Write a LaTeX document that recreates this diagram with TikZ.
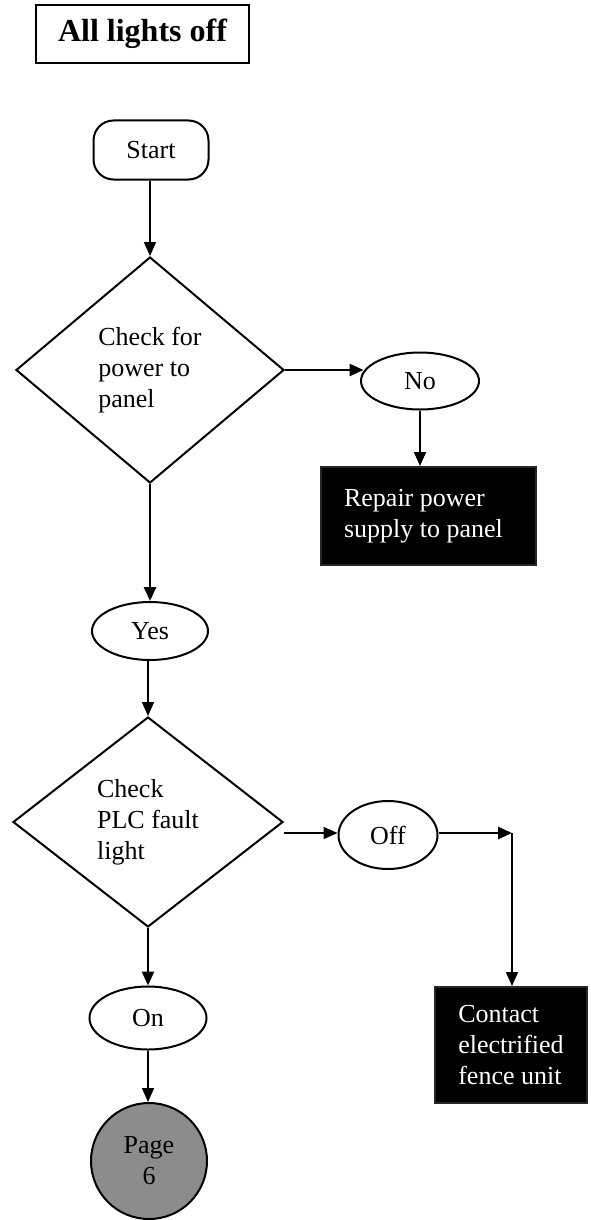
\documentclass[tikz,border=0pt]{standalone}
\usepackage{fontspec}
\setmainfont{Liberation Serif}
\usetikzlibrary{shapes.geometric,arrows.meta}

\tikzset{
  base/.style={draw=black, line width=2pt, inner sep=0pt, align=left,
    font=\fontsize{26}{31}\selectfont},
  titlebox/.style={base, rectangle, minimum width=213pt, minimum height=58pt,
    font=\fontsize{32}{38}\selectfont\bfseries},
  terminal/.style={base, rectangle, rounded corners=20pt,
    minimum width=115pt, minimum height=59pt},
  decision/.style={base, diamond},
  answer/.style={base, ellipse},
  action/.style={base, rectangle, fill=black, draw=black!85, text=white},
  pageref/.style={base, circle, fill=black!45, align=center},
  flow/.style={line width=1.6pt, -{Triangle[length=14pt,width=12pt]}},
  flowbold/.style={flow, line width=2.6pt},
}

\begin{document}
\begin{tikzpicture}[x=1pt, y=-1pt]
  \useasboundingbox (0,0) rectangle (590,1220);

  % heading
  \node[titlebox] (title) at (142.5,34) {All lights off};

  % main column
  \node[terminal] (start) at (151,150) {Start};
  \node[decision, minimum width=268pt, minimum height=226pt] (power) at (150,370)
    {Check for\\power to\\panel};
  \node[answer, minimum width=116pt, minimum height=58pt] (yes) at (150,631) {Yes};
  \node[decision, minimum width=270pt, minimum height=210pt] (plc) at (148,822)
    {Check\\PLC fault\\light};
  \node[answer, minimum width=117pt, minimum height=63pt] (on) at (148,1018) {On};
  \node[pageref, minimum size=116pt] (page) at (149,1161) {Page\\6};

  % right-hand branches
  \node[answer, minimum width=118pt, minimum height=57pt] (no) at (420,381) {No};
  \node[action, minimum width=215pt, minimum height=98pt] (repair) at (428.5,516)
    {Repair power\\supply to panel\hspace*{10pt}};
  \node[answer, minimum width=99pt, minimum height=68pt] (off) at (388,835) {Off};
  \coordinate (turn) at (512,833);
  \node[action, minimum width=152pt, minimum height=116pt] (contact) at (511,1045)
    {Contact\\electrified\\fence unit};

  % connectors
  \draw[flow] (start.south -| power.north) -- (power.north);
  \draw[flowbold] (power.east) -- (power.east -| no.170);
  \draw[flow] (no.south) -- (no.south |- repair.north);
  \draw[flowbold] (power.south) -- (yes.north);
  \draw[flow] (yes.south -| plc.north) -- (plc.north);
  \coordinate (plcout) at ([yshift=-11pt]plc.east);
  \draw[flow] (plcout) -- (plcout -| off.west);
  \draw[flowbold] (off.east |- turn) -- (turn);
  \draw[flow] (turn) -- (turn |- contact.north);
  \draw[flowbold] (plc.south) -- (plc.south |- on.north);
  \draw[flow] (on.south) -- (on.south |- page.north);
\end{tikzpicture}
\end{document}
